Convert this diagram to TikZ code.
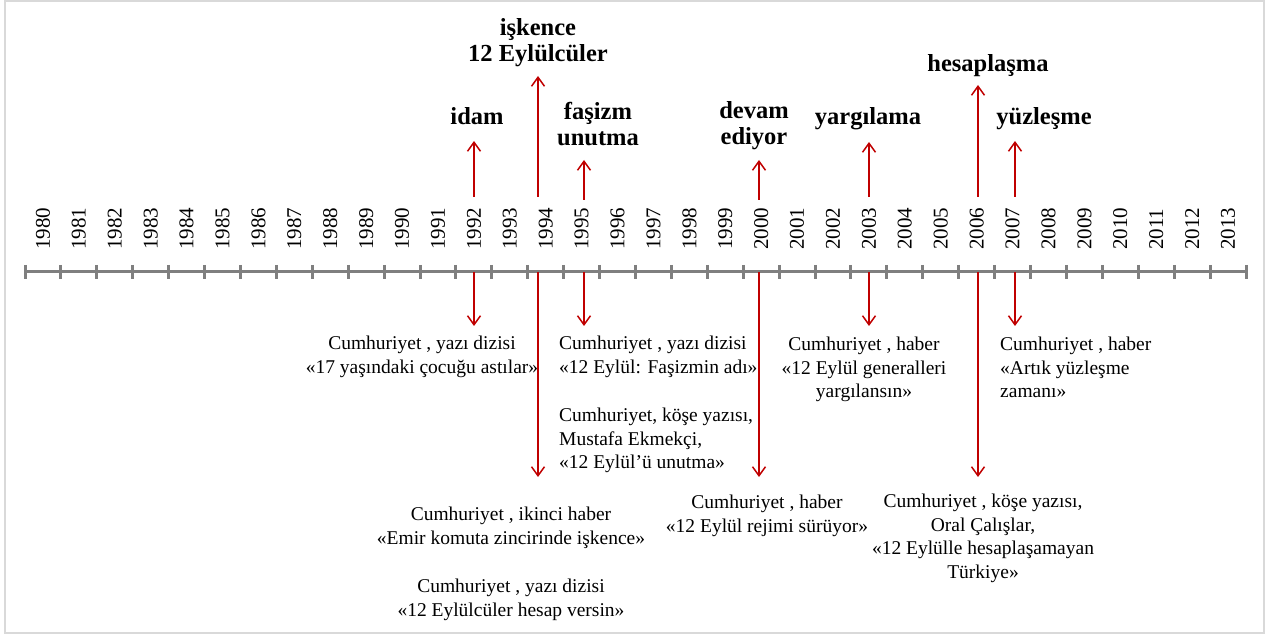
\documentclass[tikz,border=0pt]{standalone}
\usepackage{fontspec}
\setmainfont{Liberation Serif}
\usepackage{xcolor}
\usepackage{tikz}
\usetikzlibrary{arrows.meta}

\definecolor{timered}{HTML}{C00000}
\definecolor{axisgray}{HTML}{7F7F7F}
\definecolor{framegray}{HTML}{D9D9D9}

\tikzset{
	yearlabel/.style={rotate=90,anchor=west,inner sep=0pt,font=\fontsize{21}{24}\selectfont},
	keyword/.style={anchor=north,align=center,inner sep=0pt,font=\fontsize{24.5}{26}\selectfont\bfseries},
	source/.style={anchor=north,align=center,inner sep=0pt,font=\fontsize{19.5}{23.5}\selectfont},
	sourceleft/.style={source,anchor=north west,align=left},
	eventarrow/.style={timered,line width=1.5pt,-{Straight Barb[length=9pt,width=13pt]}},
}

\begin{document}
\begin{tikzpicture}[x=1pt,y=-1pt]
	\useasboundingbox (0,0) rectangle (1275,636);
	\draw[framegray,line width=2pt] (5,1.5) rectangle (1264,632.5);
	% axis with one tick per year
	\draw[axisgray,line width=3pt] (25,272) -- (1246,272);
	\foreach \i in {0,...,34}
		\draw[axisgray,line width=3pt] (25+35.912*\i,265) -- (25+35.912*\i,279);
	\foreach \yr [count=\i from 0] in {1980,...,2013}
		\node[yearlabel] (y\yr) at (42.956+35.912*\i,250) {\yr};
	% events
	\coordinate (e1992) at (474,272);
	\coordinate (e1994) at (538,272);
	\coordinate (e1995) at (584,272);
	\coordinate (e2000) at (759,272);
	\coordinate (e2003) at (869,272);
	\coordinate (e2006) at (978,272);
	\coordinate (e2007) at (1015,272);
	\draw[eventarrow] (e1992) ++(0,-75) -- ++(0,-56);
	\draw[eventarrow] (e1994) ++(0,-75) -- ++(0,-121);
	\draw[eventarrow] (e1995) ++(0,-72) -- ++(0,-40);
	\draw[eventarrow] (e2000) ++(0,-72) -- ++(0,-40);
	\draw[eventarrow] (e2003) ++(0,-75) -- ++(0,-55);
	\draw[eventarrow] (e2006) ++(0,-75) -- ++(0,-112);
	\draw[eventarrow] (e2007) ++(0,-75) -- ++(0,-56);
	\draw[eventarrow] (e1992) -- ++(0,54);
	\draw[eventarrow] (e1994) -- ++(0,205);
	\draw[eventarrow] (e1995) -- ++(0,54);
	\draw[eventarrow] (e2000) -- ++(0,205);
	\draw[eventarrow] (e2003) -- ++(0,54);
	\draw[eventarrow] (e2006) -- ++(0,205);
	\draw[eventarrow] (e2007) -- ++(0,54);
	% keywords
	\node[keyword] (k1992) at (477,107) {idam};
	\node[keyword] (k1994) at (538,18) {işkence\\12 Eylülcüler};
	\node[keyword] (k1995) at (598,102) {faşizm\\unutma};
	\node[keyword] (k2000) at (754,101) {devam\\ediyor};
	\node[keyword] (k2003) at (868,107) {yargılama};
	\node[keyword] (k2006) at (988,54) {hesaplaşma};
	\node[keyword] (k2007) at (1044,107) {yüzleşme};
	% newspaper sources
	\node[source] (s1992) at (422,336) {Cumhuriyet , yazı dizisi\\«17 yaşındaki çocuğu astılar»};
	\node[sourceleft] (s1995a) at (559,336) {Cumhuriyet , yazı dizisi\\«12 Eylül: Faşizmin adı»};
	\node[sourceleft] (s1995b) at (559,408) {Cumhuriyet, köşe yazısı,\\Mustafa Ekmekçi,\\«12 Eylül’ü unutma»};
	\node[source] (s1994a) at (511,507) {Cumhuriyet , ikinci haber\\«Emir komuta zincirinde işkence»};
	\node[source] (s1994b) at (511,579) {Cumhuriyet , yazı dizisi\\«12 Eylülcüler hesap versin»};
	\node[source] (s2000) at (767,495) {Cumhuriyet , haber\\«12 Eylül rejimi sürüyor»};
	\node[source] (s2003) at (864,337) {Cumhuriyet , haber\\«12 Eylül generalleri\\yargılansın»};
	\node[source] (s2006) at (983,494) {Cumhuriyet , köşe yazısı,\\Oral Çalışlar,\\«12 Eylülle hesaplaşamayan\\Türkiye»};
	\node[sourceleft] (s2007) at (1000,337) {Cumhuriyet , haber\\«Artık yüzleşme\\zamanı»};
\end{tikzpicture}
\end{document}
